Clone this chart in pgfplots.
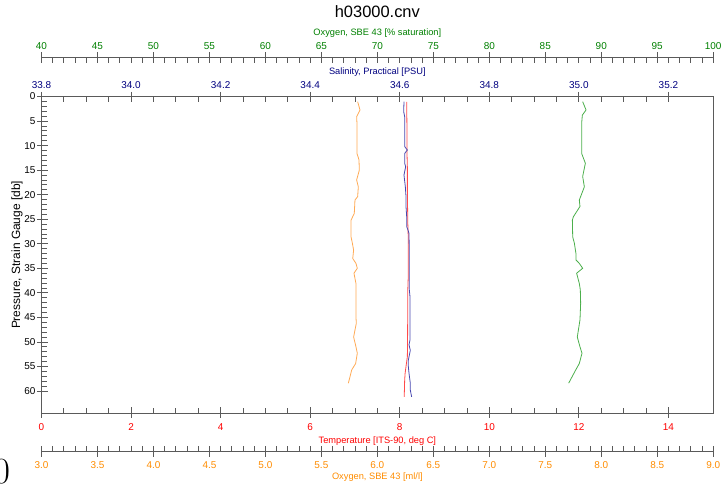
\documentclass[border=0pt]{standalone}
\usepackage{fontspec}
\setsansfont{Liberation Sans}
\usepackage{pgfplots}
\pgfplotsset{compat=1.18}

\definecolor{axisgray}{HTML}{5A5A5A}
\definecolor{tempred}{HTML}{FF0000}
\definecolor{templine}{HTML}{FF4A4A}
\definecolor{salnavy}{HTML}{000080}
\definecolor{salline}{HTML}{4848B0}
\definecolor{oxgreen}{HTML}{008000}
\definecolor{oxgline}{HTML}{4CAF4C}
\definecolor{oxorange}{HTML}{FF8C00}
\definecolor{oxoline}{HTML}{FFAA55}

\pgfplotsset{
  ctd/.style={
    scale only axis, width=671.7bp,
    /pgf/number format/assume math mode=true,
    tick label style={font=\fontsize{10}{12}\sffamily},
    label style={font=\fontsize{9.3}{11}\sffamily},
    axis line style={axisgray, line width=0.8bp},
    every tick/.style={axisgray, line width=0.8bp},
    major tick length=10.5bp, minor tick length=5.5bp,
  },
  hidden/.style={
    scale only axis, width=671.7bp, height=316.8bp,
    ymin=0, ymax=64.54, y dir=reverse, hide axis,
  },
  ruler/.style={
    ctd, height=1bp, ymin=0, ymax=1, axis y line=none, xtick align=inside,
  },
}

\begin{document}
\begin{tikzpicture}

% temperature, the box and the pressure axis
\begin{axis}[ctd, at={(0,0)}, anchor=south west, height=316.8bp,
  xmin=0, xmax=15, ymin=0, ymax=64.54, y dir=reverse,
  tick pos=left, tick align=inside,
  xtick={0,2,4,6,8,10,12,14}, minor x tick num=3,
  ytick={0,5,...,60}, minor y tick num=4,
  every major x tick/.append style={yshift=-4.5bp},
  every major y tick/.append style={xshift=-4.2bp},
  xticklabel style={text=tempred, anchor=center, yshift=-13.4bp},
  yticklabel style={anchor=east, inner sep=0pt, xshift=-5.8bp},
  xlabel={Temperature [ITS-90, deg C]},
  xlabel style={text=tempred, at={(axis description cs:0.5,0)}, anchor=center, yshift=-27.4bp},
  ylabel={Pressure, Strain Gauge [db]},
  ylabel style={font=\fontsize{12}{14}\sffamily, at={(axis description cs:-0.0365,0.5)}, anchor=center},
  title={h03000.cnv},
  title style={font=\fontsize{16.5}{18}\sffamily, at={(axis description cs:0.5,1.248)}, anchor=center},
]
\addplot[templine, line width=0.8bp] coordinates {
  (8.155,1.1) (8.16,5.5) (8.16,10.9) (8.17,14.3) (8.17,18.4) (8.175,22.4)
  (8.18,25.8) (8.185,27.2) (8.19,28.6) (8.19,36.7) (8.18,39.4) (8.175,49.6)
  (8.17,53.0) (8.14,55.0) (8.12,56.4) (8.11,57.8) (8.10,61.2)
};
\end{axis}

% salinity, top of the box
\begin{axis}[ctd, at={(0,0)}, anchor=south west, height=316.8bp,
  xmin=33.8, xmax=35.3, ymin=0, ymax=64.54, y dir=reverse,
  axis x line*=top, axis y line=none, xtick align=inside,
  xtick={33.8,34,34.2,34.4,34.6,34.8,35,35.2}, minor x tick num=3,
  every major x tick/.append style={yshift=4.5bp},
  xticklabel style={text=salnavy, anchor=center, yshift=11bp,
    /pgf/number format/fixed, /pgf/number format/fixed zerofill,
    /pgf/number format/precision=1},
  xlabel={Salinity, Practical [PSU]},
  xlabel style={text=salnavy, at={(axis description cs:0.5,1)}, anchor=center, yshift=24.5bp},
]
\addplot[salline, line width=0.8bp] coordinates {
  (34.6095,1.05) (34.6088,3.1) (34.6110,4.1) (34.6110,10.2) (34.6170,10.9)
  (34.6110,11.6) (34.6110,13.6) (34.6132,14.3) (34.6095,16.0) (34.6125,18.4)
  (34.6140,20.4) (34.6140,22.4) (34.6155,24.5) (34.6155,26.5) (34.6184,27.2)
  (34.6207,27.9) (34.6214,32.6) (34.6214,39.4) (34.6229,40.8) (34.6229,49.6)
  (34.6207,50.6) (34.6236,51.7) (34.6192,53.7) (34.6192,55.0) (34.6207,56.4)
  (34.6236,58.4) (34.6236,59.8) (34.6266,61.2)
};
\end{axis}

% oxygen, % saturation
\begin{axis}[hidden, at={(0,0)}, anchor=south west, xmin=40, xmax=100]
\addplot[oxgline, line width=0.8bp] coordinates {
  (88.34,1.05) (88.64,2.75) (88.31,3.8) (88.25,5.47) (88.25,11.6) (88.58,13.6)
  (88.34,16.3) (88.49,18.4) (88.04,21.1) (88.10,22.4) (87.51,24.5) (87.42,25.2)
  (87.45,28.6) (87.60,29.9) (87.74,32.0) (87.74,33.3) (88.04,34.0) (88.34,35.0)
  (87.80,36.0) (88.04,38.1) (88.13,39.4) (88.16,42.1) (88.10,45.5) (87.86,49.0)
  (88.10,51.0) (88.28,52.3) (88.04,54.4) (87.72,55.7) (87.09,58.4)
};
\end{axis}
\begin{axis}[ruler, at={(0,356bp)}, anchor=north west,
  xmin=40, xmax=100, axis x line*=top,
  xtick={40,45,...,100}, minor x tick num=4,
  every major x tick/.append style={yshift=5bp},
  xticklabel style={text=oxgreen, anchor=center, yshift=10.8bp},
  xlabel={Oxygen, SBE 43 [\% saturation]},
  xlabel style={text=oxgreen, at={(axis description cs:0.5,1)}, anchor=center, yshift=23.8bp},
]
\end{axis}

% oxygen, ml/l
\begin{axis}[hidden, at={(0,0)}, anchor=south west, xmin=3, xmax=9]
\addplot[oxoline, line width=0.8bp] coordinates {
  (5.824,1.05) (5.845,2.75) (5.815,4.1) (5.818,5.5) (5.818,8.9) (5.818,11.6)
  (5.836,12.9) (5.839,15.0) (5.815,17.0) (5.830,18.4) (5.824,20.4) (5.800,21.1)
  (5.794,23.8) (5.765,25.2) (5.765,28.6) (5.777,29.9) (5.788,31.3) (5.780,33.0)
  (5.809,34.0) (5.821,35.0) (5.791,36.0) (5.809,38.1) (5.809,40.1) (5.809,44.9)
  (5.812,46.2) (5.788,49.0) (5.809,51.0) (5.821,52.3) (5.806,54.4) (5.771,55.7)
  (5.741,58.4)
};
\end{axis}
\begin{axis}[ruler, at={(0,-38.4bp)}, anchor=south west,
  xmin=3, xmax=9, axis x line*=bottom,
  xtick={3,3.5,4,4.5,5,5.5,6,6.5,7,7.5,8,8.5,9}, minor x tick num=4,
  every major x tick/.append style={yshift=-5bp},
  xticklabel style={text=oxorange, anchor=center, yshift=-13.3bp,
    /pgf/number format/fixed, /pgf/number format/fixed zerofill,
    /pgf/number format/precision=1},
  xlabel={Oxygen, SBE 43 [ml/l]},
  xlabel style={text=oxorange, at={(axis description cs:0.5,0)}, anchor=center, yshift=-25bp},
]
\end{axis}

% the stray digit cut by the left edge in the reference
\node[font=\fontsize{37}{37}\selectfont, anchor=base east, inner sep=0pt] at (-31.2bp,-69.7bp) {0};

\pgfresetboundingbox
\path[use as bounding box] (-41.5bp,-74.7bp) rectangle (679.5bp,413.3bp);
\end{tikzpicture}
\end{document}
